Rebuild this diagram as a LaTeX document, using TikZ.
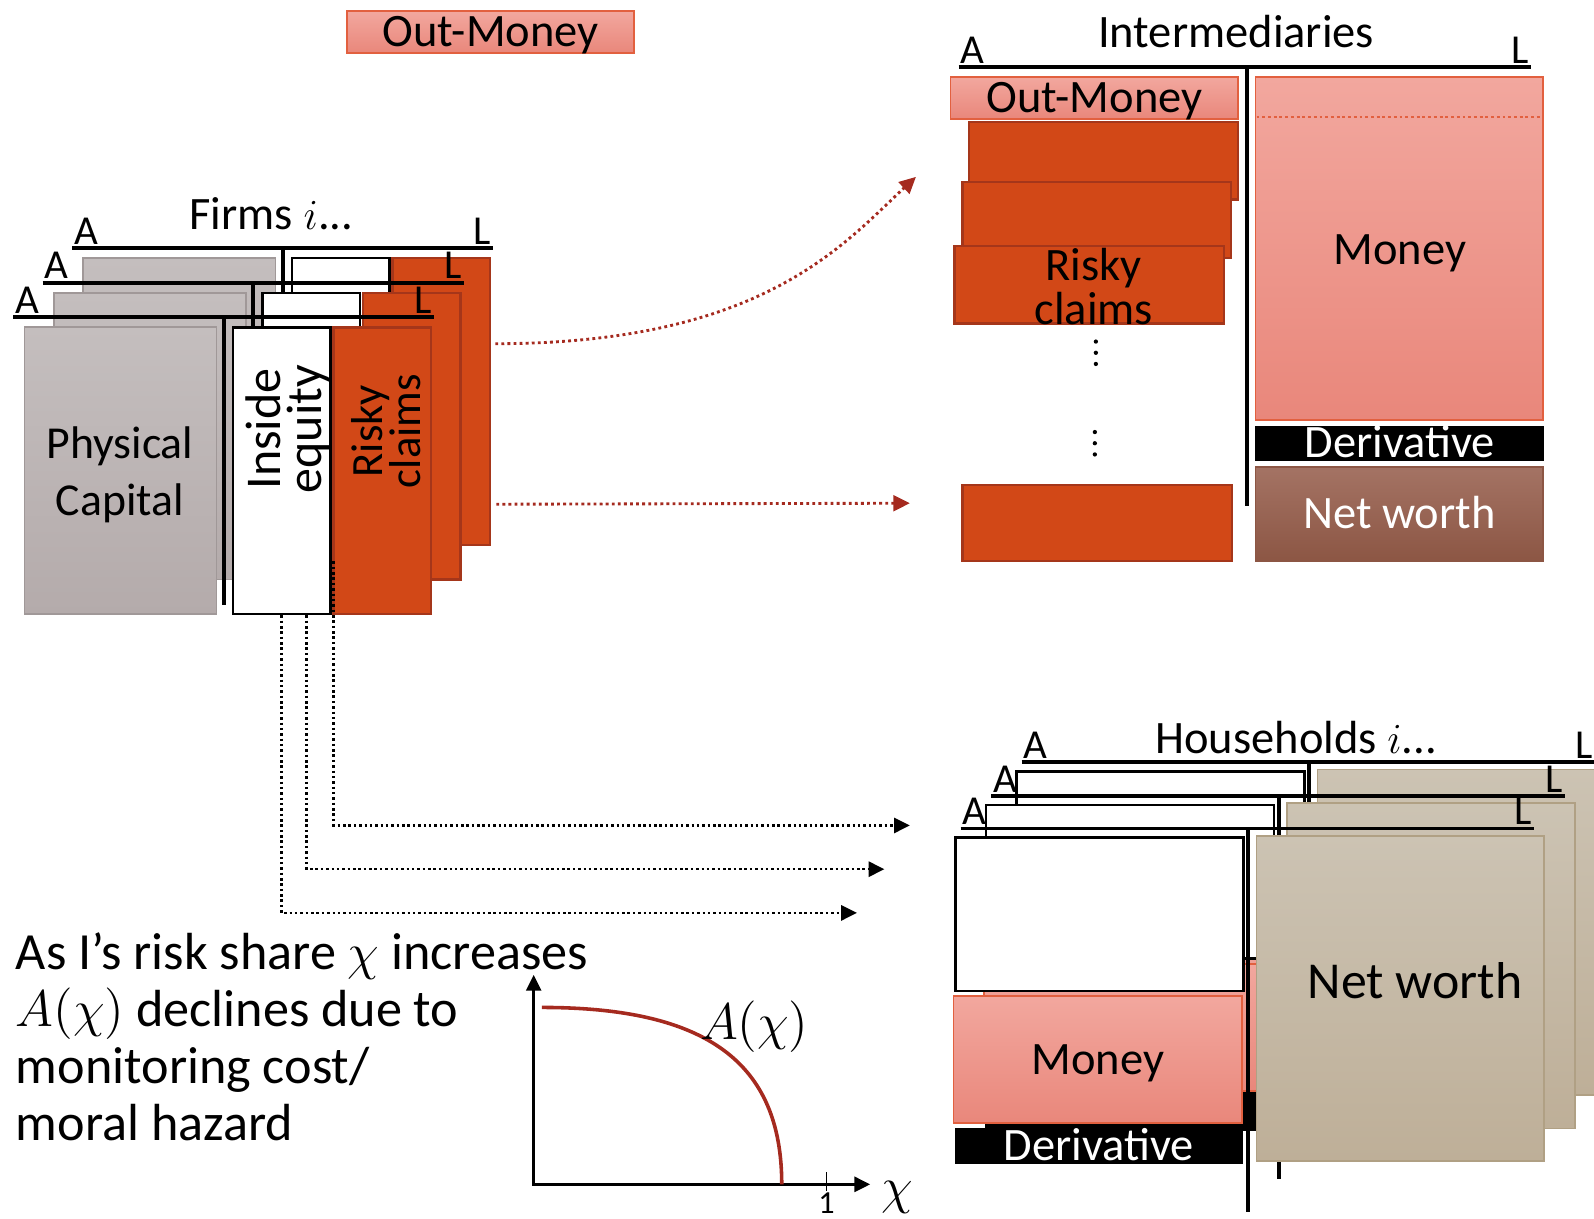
\documentclass[tikz,border=0pt]{standalone}
\usepackage{fontspec}
\setmainfont{Carlito}
\usetikzlibrary{arrows.meta,calc,fit}

\definecolor{riskred}{HTML}{D24817}
\definecolor{riskline}{HTML}{A5361A}
\definecolor{pinktop}{HTML}{F2A79E}
\definecolor{pinkbot}{HTML}{E9877B}
\definecolor{pinkline}{HTML}{E2603F}
\definecolor{greytop}{HTML}{C4BEBE}
\definecolor{greybot}{HTML}{B4ABAB}
\definecolor{greyline}{HTML}{A09898}
\definecolor{tantop}{HTML}{CCC3B3}
\definecolor{tanbot}{HTML}{BEAF98}
\definecolor{tanline}{HTML}{B0A084}
\definecolor{nettop}{HTML}{A47364}
\definecolor{netbot}{HTML}{8C5644}
\definecolor{arrowred}{HTML}{A52A1F}

\tikzset{
    tline/.style={line width=1.1pt},
    sheet/.style={inner sep=0pt, line width=0.5pt},
    greybox/.style={sheet, draw=greyline, top color=greytop, bottom color=greybot},
    whitebox/.style={sheet, draw=black, fill=white, line width=0.7pt},
    riskbox/.style={sheet, draw=riskline, fill=riskred, line width=0.7pt},
    pinkbox/.style={sheet, draw=pinkline, top color=pinktop, bottom color=pinkbot},
    tanbox/.style={sheet, draw=tanline, top color=tantop, bottom color=tanbot},
    derivbox/.style={sheet, fill=black},
    netbox/.style={sheet, draw=netbot, top color=nettop, bottom color=netbot},
    txt/.style={font=\fontsize{13}{13}\selectfont, text height=0.8em, text depth=0pt},
    letter/.style={inner sep=0pt, yshift=0.5pt, font=\fontsize{11.5}{11.5}\selectfont},
    reddots/.style={draw=arrowred, line width=0.8pt, dash pattern=on 0.8pt off 0.9pt,
        -{Triangle[length=4.6pt,width=4.4pt,fill=arrowred]}},
    blackdots/.style={line width=0.7pt, dash pattern=on 0.7pt off 0.8pt,
        -{Triangle[length=4.4pt,width=4.2pt]}},
    axis/.style={line width=0.7pt},
}

\begin{document}
\begin{tikzpicture}[x=0.01cm, y=-0.01cm]
    \useasboundingbox (0,0) rectangle (1568,1199);

    \node[pinkbox, fit={(341,11) (624,52)}] (outMoney) {};
    \node[txt] (outMoneyText) at (outMoney) {Out-Money};

    % firms, back to front
    \node[font=\fontsize{13}{13}\selectfont, anchor=base] (fTitle) at (267,226) {Firms $i$...};
    \foreach \k/\dx/\dy in {2/58/68, 1/29/34, 0/0/0}
    {
        \draw[tline] (220+\dx,312-\dy) -- (220+\dx,595-\dy);
        \node[greybox, fit={(24+\dx,322-\dy) (213+\dx,604-\dy)}] (fG\k) {};
        \node[whitebox, fit={(229+\dx,322-\dy) (325+\dx,604-\dy)}] (fW\k) {};
        \node[riskbox, fit={(328+\dx,322-\dy) (424+\dx,604-\dy)}] (fR\k) {};
        \draw[tline] (13+\dx,312-\dy) node[letter, anchor=south west] (fA\k) {A}
            -- (427+\dx,312-\dy) node[letter, anchor=south east] (fL\k) {L};
    }
    \node[align=center, font=\fontsize{12.8}{15.8}\selectfont] (fPhys) at (118,467) {Physical\\Capital};
    \node[align=center, rotate=90, font=\fontsize{14}{11.5}\selectfont] (fInside) at (283,422) {Inside\\equity};
    \node[align=center, rotate=90, font=\fontsize{12.5}{10.8}\selectfont] (fRisky) at (380,424) {Risky\\claims};

    % intermediaries
    \node[font=\fontsize{13}{13}\selectfont, anchor=base] (iTitle) at (1216,47) {Intermediaries};
    \draw[tline] (943,66) node[letter, anchor=south west] (iA) {A}
        -- (1506,66) node[letter, anchor=south east] (iL) {L};
    \draw[tline] (1227,66) -- (1227,498);
    \node[pinkbox, fit={(935,76) (1218,117)}] (iOut) {};
    \node[txt] (iOutText) at (iOut) {Out-Money};
    \node[riskbox, fit={(953,120) (1218,196)}] (iRisk1) {};
    \node[riskbox, fit={(947,179) (1211,254)}] (iRisk2) {};
    \node[riskbox, fit={(939,242) (1204,318)}] (iRisk3) {};
    \node[align=center, font=\fontsize{13}{10.2}\selectfont] (iRiskText) at (1076,282) {Risky\\claims};
    \foreach \y in {0,1,2}
    {
        \fill (1078,336+11*\y) circle[radius=0.6pt];
        \fill (1077,425+11*\y) circle[radius=0.6pt];
    }
    \node[riskbox, fit={(947,477) (1212,552)}] (iRisk4) {};
    \node[pinkbox, fit={(1235,76) (1518,413)}] (iMoney) {};
    \node[txt] (iMoneyText) at (1377,246) {Money};
    \draw[pinkline, line width=0.8pt, dash pattern=on 0.8pt off 0.8pt]
        ($(iMoney.north west)+(2,40)$) -- ($(iMoney.north east)+(-2,40)$);
    \node[derivbox, fit={(1235,419) (1519,453)}] (iDeriv) {};
    \node[txt, text=white] (iDerivText) at (iDeriv) {Derivative};
    \node[netbox, fit={(1235,459) (1518,552)}] (iNet) {};
    \node[txt, text=white] (iNetText) at (iNet) {Net worth};

    % households, back to front
    \node[font=\fontsize{13}{13}\selectfont, anchor=base] (hTitle) at (1275,741) {Households $i$...};
    \foreach \k/\dx/\dy in {2/60/65, 1/30/32, 0/0/0}
    {
        \draw[tline] (1228+\dx,815-\dy) -- (1228+\dx,1192-\dy);
        \node[whitebox, fit={(940+\dx,824-\dy) (1223+\dx,975-\dy)}] (hW\k) {};
        \node[pinkbox, fit={(938+\dx,980-\dy) (1222+\dx,1105-\dy)}] (hM\k) {};
        \node[derivbox, fit={(939+\dx,1110-\dy) (1223+\dx,1145-\dy)}] (hD\k) {};
        \node[tanbox, fit={(1236+\dx,822-\dy) (1519+\dx,1142-\dy)}] (hT\k) {};
        \draw[tline] (945+\dx,815-\dy) node[letter, anchor=south west] (hA\k) {A}
            -- (1509+\dx,815-\dy) node[letter, anchor=south east] (hL\k) {L};
    }
    \node[txt] (hMoney) at (hM0) {Money};
    \node[txt, text=white] (hDeriv) at (hD0) {Derivative};
    \node[txt, font=\fontsize{14.5}{14.5}\selectfont] (hNet) at (1392,968) {Net worth};

    % flows
    \coordinate (iIn1) at (901,174);
    \coordinate (iIn2) at (895,495);
    \coordinate (hIn1) at (895,812);
    \coordinate (hIn2) at (870,855);
    \coordinate (hIn3) at (843,898);
    \draw[reddots] ($(fR2.north east)!0.3!(fR2.south east)+(4,0)$) .. controls (750,338) and (830,240) .. (iIn1);
    \draw[reddots] ($(fR2.north east)!0.855!(fR2.south east)+(5,0)$) -- (iIn2);
    \draw[blackdots] (fW0.south) |- (hIn3);
    \draw[blackdots] ($(fW0.south)!0.5!(fW0.south east)$) |- (hIn2);
    \draw[blackdots] ($(fW0.south east)+(2,-53)$) |- (hIn1);

    % monitoring cost
    \node[anchor=north west, inner sep=0pt, align=left, font=\fontsize{14.6}{15.9}\selectfont] (note) at (15,917)
        {As I’s risk share $\chi$ increases\\$A(\chi)$ declines due to\\monitoring cost/\\moral hazard};
    \coordinate (gO) at (525,1165);
    \coordinate (gY) at (525,959);
    \coordinate (gX) at (856,1165);
    \draw[axis, {Triangle[length=4.4pt,width=4.2pt]}-{Triangle[length=4.4pt,width=4.2pt]}] (gY) -- (gO) -- (gX);
    \draw[line width=0.5pt] (813,1153) -- (813,1172) node[anchor=north, inner sep=0pt, font=\fontsize{9}{9}\selectfont] (gOne) {1};
    \node[font=\fontsize{15}{15}\selectfont] (gChi) at (883,1178) {$\chi$};
    \draw[arrowred, line width=1pt] (533,991) .. controls (695,991) and (769,1045) .. (769,1165);
    \node[font=\fontsize{15}{15}\selectfont] (gLab) at (742,1010) {$A(\chi)$};
\end{tikzpicture}
\end{document}
